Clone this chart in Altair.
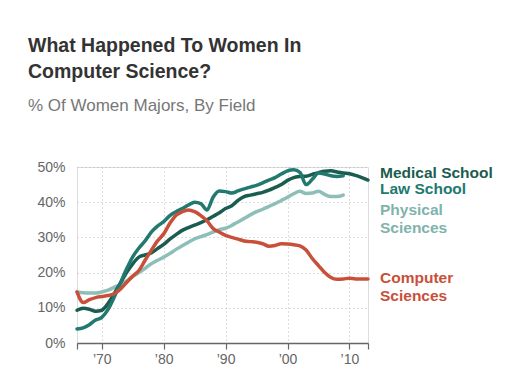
import altair as alt
import pandas as pd

years = list(range(1966, 2014))

medical = [9.3, 9.9, 9.6, 9.0, 9.3, 11.2, 14.0, 17.0, 20.0, 22.5,
           24.4, 25.0, 25.6, 26.8, 28.0, 29.5, 30.8, 32.0, 32.8, 33.5,
           34.2, 35.0, 36.0, 37.0, 38.2, 39.0, 40.5, 41.6, 42.0, 42.4,
           42.8, 43.4, 44.2, 45.0, 46.2, 47.0, 47.3, 47.4, 47.9, 48.4,
           48.8, 48.9, 48.6, 48.3, 48.1, 47.6, 47.0, 46.3]

law = [4.0, 4.3, 5.2, 6.5, 7.3, 9.5, 13.0, 17.0, 21.0, 24.5,
       27.0, 29.0, 31.5, 33.2, 34.5, 36.2, 37.3, 38.2, 39.2, 40.0,
       39.6, 37.8, 41.5, 43.2, 43.0, 42.6, 43.2, 43.8, 44.3, 44.8,
       45.5, 46.3, 47.0, 48.0, 48.9, 49.2, 48.5, 45.0, 46.5, 48.3,
       48.0, 47.5, 47.3, 47.5]

physical = [14.5, 14.3, 14.2, 14.2, 14.5, 15.0, 15.8, 16.6, 17.6, 18.9,
            20.0, 21.2, 22.5, 23.5, 24.4, 25.4, 26.6, 27.6, 28.6, 29.6,
            30.2, 30.8, 31.5, 32.2, 32.6, 33.4, 34.4, 35.4, 36.4, 37.3,
            38.0, 38.8, 39.6, 40.5, 41.4, 42.4, 43.1, 42.5, 42.6, 43.1,
            42.2, 41.6, 41.6, 42.0]

computer = [14.5, 11.5, 12.3, 12.9, 13.2, 13.5, 14.0, 15.3, 17.2, 19.0,
            20.6, 23.5, 26.3, 29.0, 31.0, 34.0, 36.3, 37.3, 37.8, 37.3,
            36.2, 34.7, 32.5, 31.5, 30.6, 30.0, 29.5, 29.0, 28.8, 28.6,
            28.2, 27.5, 27.7, 28.2, 28.1, 27.9, 27.6, 26.4, 24.0, 22.0,
            20.0, 18.6, 18.1, 18.2, 18.4, 18.2, 18.2, 18.2]

series = {
    "Physical Sciences": physical,
    "Medical School": medical,
    "Law School": law,
    "Computer Sciences": computer,
}
order = list(series.keys())
colors = ["#8dbfb8", "#1b5c50", "#21796f", "#c8503a"]

rows = []
for i, (name, vals) in enumerate(series.items()):
    for y, v in zip(years, vals):
        rows.append({"year": y, "pct": v, "field": name, "o": i})
df = pd.DataFrame(rows)

FONT = "Liberation Sans"

x_vals = [1966, 1970, 1980, 1990, 2000, 2010, 2013]

lines = alt.Chart(df).mark_line(
    strokeWidth=3.5, interpolate="monotone", strokeCap="round", strokeJoin="round"
).encode(
    x=alt.X("year:Q",
            scale=alt.Scale(domain=[1966, 2013], nice=False, zero=False),
            axis=alt.Axis(
                values=x_vals, title=None,
                labelExpr="(datum.value == 1966 || datum.value == 2013) ? '' : '\u2019' + slice(toString(datum.value), 2)",
                labelFont=FONT, labelFontSize=14, labelColor="#666",
                labelPadding=3, tickSize=6, tickColor="#666", tickWidth=1.2,
                domainColor="#666", domainWidth=1.5,
                grid=True, gridDash=[1, 3], gridColor="#bbb",
                gridOpacity={"condition": {"test": "datum.value == 1966 || datum.value == 2013", "value": 0}, "value": 1},
            )),
    y=alt.Y("pct:Q",
            scale=alt.Scale(domain=[0, 50], nice=False),
            axis=alt.Axis(
                values=[0, 10, 20, 30, 40, 50], title=None,
                labelExpr="datum.value + '%'",
                labelFont=FONT, labelFontSize=14, labelColor="#666",
                labelPadding=12, ticks=False, domain=False,
                grid=True, gridDash=[1, 3], gridColor="#bbb",
            )),
    color=alt.Color("field:N", scale=alt.Scale(domain=order, range=colors), legend=None),
    detail="field:N",
    order="o:Q",
)

one = alt.Data(values=[{}])

def txt(s, x, y, size, color, weight="normal"):
    return alt.Chart(one).mark_text(
        text=s, align="left", baseline="alphabetic", font=FONT,
        fontSize=size, fontWeight=weight, color=color
    ).encode(x=alt.value(x), y=alt.value(y))

layers = [lines,
          txt("What Happened To Women In", -49, -115.3, 19.5, "#333", "bold"),
          txt("Computer Science?", -49, -88.7, 19.5, "#333", "bold"),
          txt("% Of Women Majors, By Field", -49, -56.3, 17, "#777"),
          txt("Medical School", 303, 11.2, 15.5, "#1b5c50", "bold"),
          txt("Law School", 303, 27.2, 15.5, "#21796f", "bold"),
          txt("Physical", 303, 47.7, 15.5, "#7fb3ab", "bold"),
          txt("Sciences", 303, 66, 15.5, "#7fb3ab", "bold"),
          txt("Computer", 303, 116, 15.5, "#c8503a", "bold"),
          txt("Sciences", 303, 134.3, 15.5, "#c8503a", "bold"),
          ]

chart = alt.layer(*layers).properties(
    width=291, height=176,
    padding={"left": 69, "top": 159, "right": 125, "bottom": 23},
    autosize="none",
).configure_view(stroke=None).configure(background="white")

chart.save("out.html", embed_options={"renderer": "svg", "actions": False})
